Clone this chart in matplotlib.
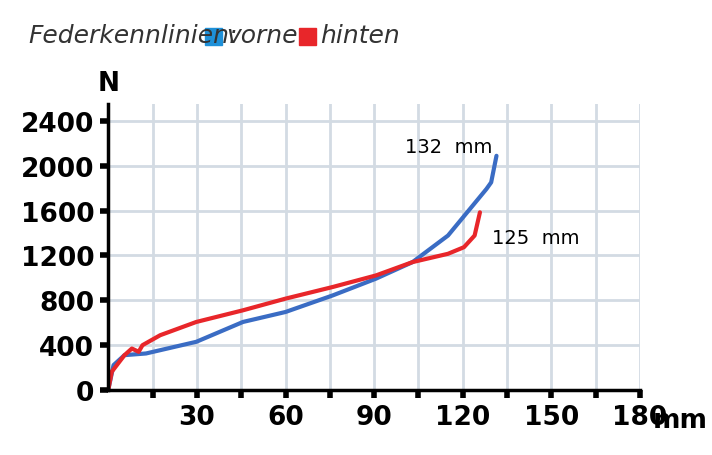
import matplotlib.pyplot as plt

# spring curves (travel in mm, force in N)
front_mm = [0, 1.8, 5.5, 12.8, 29.8, 45.6, 60, 76, 90.6, 103, 115, 128, 129.6, 131.4]
front_n = [0, 222, 311, 326, 430, 607, 696, 844, 993, 1141, 1378, 1793, 1852, 2089]
rear_mm = [0, 1.2, 5.5, 8, 10.3, 11.6, 17.6, 29.8, 45.6, 60, 76, 90.6, 103, 115, 120.4, 124, 125.8]
rear_n = [0, 163, 311, 370, 341, 400, 489, 607, 711, 815, 919, 1022, 1141, 1215, 1274, 1378, 1585]

y_ticks = [0, 400, 800, 1200, 1600, 2000, 2400]

blue = "#3a6cc4"
red = "#e8262a"
narrow = ["Liberation Sans Narrow", "DejaVu Sans"]

fig = plt.figure(figsize=(7.12, 4.56), dpi=100)
ax = fig.add_axes([0.152, 0.1425, 0.747, 0.627])

ax.plot(front_mm, front_n, color=blue, lw=3, solid_capstyle="round")
ax.plot(rear_mm, rear_n, color=red, lw=3, solid_capstyle="round")

ax.set_xlim(0, 180)
ax.set_ylim(0, 2550)
ax.set_xticks(range(15, 181, 15))
ax.set_xticklabels(["" if i % 30 else str(i) for i in range(15, 181, 15)])
ax.set_yticks(y_ticks)
ax.grid(True, color="#d3dbe3", lw=2)
ax.set_axisbelow(True)
for s in ["top", "right"]:
    ax.spines[s].set_visible(False)
for s in ["left", "bottom"]:
    ax.spines[s].set_linewidth(2.5)
ax.tick_params(length=6, width=4, direction="out", pad=4)
for lab in ax.get_xticklabels() + ax.get_yticklabels():
    lab.set_fontsize(19)
    lab.set_fontweight("bold")
    lab.set_family(narrow)

fig.text(0.152, 0.815, "N", fontsize=19, fontweight="bold", ha="center", va="center", family=narrow)
fig.text(0.955, 0.077, "mm", fontsize=19, fontweight="bold", ha="center", va="center", family=narrow)

ax.text(130, 2090, "132  mm", fontsize=14, ha="right", va="bottom", family=narrow)
ax.text(130, 1360, "125  mm", fontsize=14, ha="left", va="center", family=narrow)

fig.text(0.04, 0.92, "Federkennlinien:", fontsize=18, style="italic", color="#333333",
         va="center", family=narrow)
fig.patches.append(plt.Rectangle((0.288, 0.9), 0.024, 0.037, color="#1e90d8", transform=fig.transFigure))
fig.text(0.318, 0.92, "vorne", fontsize=18, style="italic", color="#333333", va="center", family=narrow)
fig.patches.append(plt.Rectangle((0.42, 0.9), 0.024, 0.037, color=red, transform=fig.transFigure))
fig.text(0.45, 0.92, "hinten", fontsize=18, style="italic", color="#333333", va="center", family=narrow)

fig.savefig("out.png")
